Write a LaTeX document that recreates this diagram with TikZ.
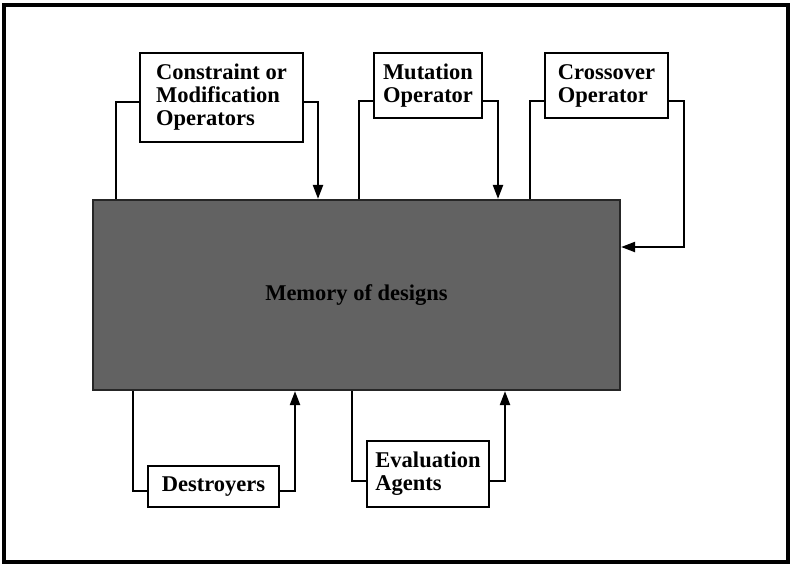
\documentclass[tikz,border=0pt]{standalone}
\usepackage{fontspec}
\setmainfont{Liberation Serif}
\usetikzlibrary{arrows.meta}
\definecolor{memgray}{HTML}{626262}
\tikzset{
  opbox/.style={draw=black, line width=2.2pt, fill=white, align=left,
    inner sep=0pt, font=\fontsize{22.5}{23}\selectfont\bfseries},
  link/.style={line width=2.2pt, line join=miter},
  flow/.style={link, -{Triangle[length=14pt,width=10pt]}}
}
\begin{document}
\begin{tikzpicture}[x=1pt, y=-1pt]
  % page frame
  \useasboundingbox (0,0) rectangle (792,566);
  \draw[line width=4pt] (4,5) rectangle (788,562);

  % central store
  \node[draw=black!85, line width=2.2pt, fill=memgray, minimum width=527pt,
    minimum height=190pt, inner sep=0pt,
    font=\fontsize{22.5}{23}\selectfont\bfseries] (mem) at (356.5,295)
    {Memory of designs};

  % operators above
  \node[opbox, minimum width=163pt, minimum height=89pt] (con) at (221.5,97.5)
    {Constraint or\\Modification\\Operators};
  \node[opbox, minimum width=108pt, minimum height=65pt] (mut) at (428,85.5)
    {Mutation\\Operator};
  \node[opbox, minimum width=123pt, minimum height=65pt] (cro) at (606.5,85.5)
    {Crossover\\Operator};

  % agents below
  \node[opbox, minimum width=131pt, minimum height=41pt] (des) at (213.5,486.5)
    {Destroyers};
  \node[opbox, minimum width=122pt, minimum height=66pt] (eva) at (428,474)
    {Evaluation\\Agents};

  % loops: read from memory, write back
  \draw[link] (mem.north -| 116,0) |- ([yshift=-4.5pt]con.west);
  \draw[flow] ([yshift=-4.5pt]con.east) -| (mem.north -| 318,0);

  \draw[link] (mem.north -| 359,0) |- ([yshift=-15.5pt]mut.west);
  \draw[flow] ([yshift=-15.5pt]mut.east) -| (mem.north -| 498,0);

  \draw[link] (mem.north -| 530,0) |- ([yshift=-15.5pt]cro.west);
  \draw[flow] ([yshift=-15.5pt]cro.east) -| (684,247) -- (mem.east |- 0,247);

  \draw[link] (mem.south -| 133,0) |- ([yshift=-4.5pt]des.west);
  \draw[flow] ([yshift=-4.5pt]des.east) -| (mem.south -| 295,0);

  \draw[link] (mem.south -| 352,0) |- ([yshift=-7pt]eva.west);
  \draw[flow] ([yshift=-7pt]eva.east) -| (mem.south -| 505,0);
\end{tikzpicture}
\end{document}
